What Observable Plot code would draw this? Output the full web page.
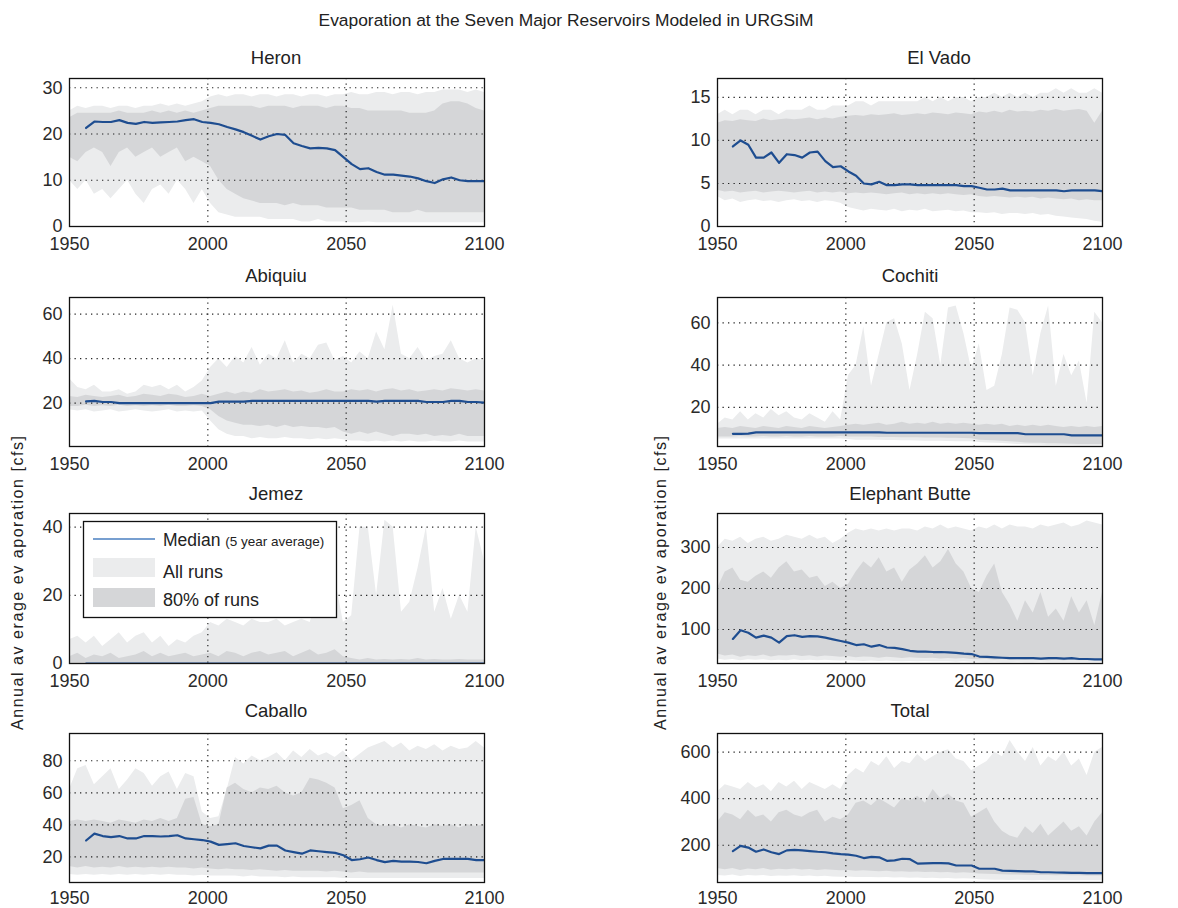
<!DOCTYPE html>
<html><head><meta charset="utf-8">
<script src="https://cdn.jsdelivr.net/npm/d3@7"></script>
<script src="https://cdn.jsdelivr.net/npm/@observablehq/plot@0.6"></script>
<style>
html,body{margin:0;padding:0;background:#fff;}
#root{position:relative;width:1178px;height:908px;overflow:hidden;background:#fff;}
#root > svg{position:absolute;}
</style></head><body><div id="root"></div>
<script>
const years = [1950,1953,1956,1959,1962,1965,1968,1971,1974,1977,1980,1983,1986,1989,1992,1995,1998,2001,2004,2007,2010,2013,2016,2019,2022,2025,2028,2031,2034,2037,2040,2043,2046,2049,2052,2055,2058,2061,2064,2067,2070,2073,2076,2079,2082,2085,2088,2091,2094,2097,2100];
const xTicks = [1950, 2000, 2050, 2100];

// Heron
const heronMedian = [null,null,21.3,22.7,22.6,22.6,23.0,22.4,22.2,22.6, 22.4,22.5,22.6,22.7,23.0,23.2,22.6,22.4,22.1,21.5, 21.0,20.4,19.6,18.8,19.5,20.0,19.8,18.0,17.4,16.9, 17.0,16.9,16.5,15.0,13.5,12.4,12.6,11.8,11.2,11.2, 11.0,10.8,10.4,9.8,9.4,10.2,10.6,10.0,9.8,9.8, 9.8];
const heronAllMax = [25,26,25.5,26,26,25.5,26,26,25.5,26, 26,26.5,26,26.5,26,26.5,27,28,28.5,28, 28.5,28.5,28,28.5,28.5,28,28.5,28.5,28,28.5, 28.5,28,28.5,28.5,29,28.5,28.5,29,29,28.5, 29,29,28.5,29,29,29.5,29.5,29.5,29,29.5, 29];
const heronP90 = [23.5,24.5,24.5,24.5,24.5,24.5,25,24.5,24.5,24.5, 25,24.5,25,24.5,25,24.5,25,25.5,26,26, 26,26,26,25.5,26,26,26,25.5,26,26, 26,25.5,26,26,25.5,25.5,25,25,25,25, 25,24.5,24.5,24.5,25,26.5,27,27,26.5,25.5, 25];
const heronP10 = [15,14,16,17,16,13,16,17,15,16, 17,15,16,17,14,15,14,13,10,8, 7,6,5.5,5,5,5,4.5,5,4.5,4.5, 4.5,4,4,4,4,3.5,3.5,3.5,3.5,3, 3,3,3.5,3,3,3,3,3,3,3, 3];
const heronAllMin = [10,8,10,7,8,6,8,10,7,5, 8,9,7,10,8,5,8,5,3,2.5, 2,2,2,2,1.5,1.5,1.5,1.5,1,1, 1.5,1,1,1,0.8,0.8,1,0.8,0.8,0.8, 0.8,0.8,0.8,0.8,0.8,0.8,0.8,0.8,0.8,0.8, 0.8];

// El Vado
const elVadoMedian = [null,null,9.3,10.0,9.5,8.0,8.0,8.6,7.4,8.4, 8.3,8.0,8.6,8.7,7.6,6.9,7.0,6.4,5.9,5.0, 4.9,5.2,4.8,4.8,4.9,4.9,4.8,4.8,4.8,4.8, 4.8,4.8,4.7,4.7,4.5,4.3,4.3,4.4,4.2,4.2, 4.2,4.2,4.2,4.2,4.2,4.1,4.2,4.2,4.2,4.2, 4.1];
const elVadoAllMax = [13,13.5,13,13.5,13.5,13,13.5,13.5,13,13.5, 13.5,13.5,14,13.5,13.5,14,14,14,14.5,14.5, 14,14.5,14.5,14.5,14.5,14.5,14.5,15,14.5,15, 14.5,15,15,14.5,15,15,15.5,15,15.5,15, 15.5,15,15.5,15.5,16,15.5,16,15.5,15.5,16, 15.5];
const elVadoP90 = [12,12.3,12.2,12.4,12.3,12.2,12.5,12.3,12.4,12.5, 12.4,12.5,12.6,12.4,12.6,12.5,12.7,12.8,12.9,12.8, 13,12.9,13,13.1,12.9,13,13.1,13,13.2,13.1, 13,13.2,13.1,13,13.3,13.2,13.4,13.2,13.5,13.3, 13.4,13.3,13.5,13.4,13.6,13.4,13.5,13.6,13.4,12, 13.4];
const elVadoP10 = [4.2,4,4.1,3.9,4,4.1,3.9,4,4.1,4, 3.9,4,4.1,3.9,4,3.9,4,3.8,3.9,3.8, 3.9,3.8,3.7,3.8,3.9,3.7,3.8,3.7,3.8,3.7, 3.8,3.7,3.6,3.7,3.5,3.4,3.5,3.4,3.3,3.4, 3.3,3.4,3.2,3.3,3.2,3.1,3.2,3,3.1,3, 3];
const elVadoAllMin = [3.5,3,3.2,2.8,3,3.1,2.9,3,2.8,3, 3.1,2.9,3,2.8,3,2.9,2.7,2.2,2,1.8, 2,1.9,1.8,2,1.7,1.9,1.8,2,1.7,1.8, 1.9,1.7,1.8,1.6,1.6,1.5,1.6,1.4,1.5,1.5, 1.4,1.5,1.3,1.4,1.2,1.1,1,0.9,0.8,0.6, 0.5];

// Abiquiu
const abiquiuMedian = [null,null,20.8,21,20.5,20.5,20,20,20,20, 20,20,20,20,20,20,20,20,20.7,20.7, 20.7,20.7,21,21,21,21,21,21,21,21, 21,21,21,21,21,21,21,20.7,21,21, 21,21,21,20.5,20.5,20.5,21,21,20.5,20.5, 20.2];
const abiquiuAllMax = [31,27,26,28,25,25,26,24,25,28, 27,28,26,28,25,27,30,36,40,36, 41,38,45,37,42,40,48,38,42,40, 46,47,39,41,38,43,40,52,44,64, 42,40,45,39,41,42,48,40,38,40, 39];
const abiquiuP90 = [23,22.5,23.5,23,22.5,23,23.5,22.5,23,24, 23.5,23,24,23.5,22.5,23,24,23,24,25, 24,25,24.5,26,25,25.5,26,25,25.5,24.5, 25,26,25,25,26,25.5,26,25,26,26.5, 25.5,26,25,25.5,26,25.5,26.5,26,25.5,26, 25.5];
const abiquiuP10 = [18.5,18.5,19,18.5,18.8,18.5,19,18.5,18.8,18.5, 18.8,18.5,19,18.5,18.5,18.8,18.5,17,14,12, 11,10,10,9.5,10,9,10,9,9.5,9, 9,8.5,9,7,6,7,6,7,6,5, 6,6,5.5,6,5,5.5,5,6,5,5, 5];
const abiquiuAllMin = [17,16.5,17,16,16.5,17,16,16.5,17,16.5, 16,16.5,17,16,16.5,16,16.5,12,8,6, 5,5,4,4.5,4,4,4.5,4,4,3.5, 4,3.5,4,3.5,3,3,2.5,3,2.5,3, 2.5,3,2.5,2.5,3,2.5,2.5,3,2.5,2.5, 2.5];

// Cochiti
const cochitiMedian = [null,null,7.5,7.5,7.6,8.2,8.2,8.2,8.2,8.2, 8.2,8.2,8.2,8.2,8.2,8.2,8.2,8.2,8.2,8.2, 8.2,8.2,8.0,8.0,8.0,8.0,8.0,8.0,8.0,8.0, 8.0,8.0,8.0,8.0,7.8,7.8,7.8,7.8,7.8,7.8, 7.3,7.3,7.3,7.3,7.3,7.3,6.8,6.8,6.8,6.8, 6.8];
const cochitiAllMax = [12,15,14,18,14,17,15,19,16,18, 15,14,17,15,13,18,14,35,40,58, 30,45,60,62,50,28,45,65,62,40, 67,68,55,38,50,28,30,45,67,66, 60,35,55,68,30,45,35,42,22,65, 60];
const cochitiP90 = [10,10.5,10,11,10.5,10,11,10.5,10,11, 10.5,10,11,10.5,10,10.5,11,11.5,12,11.5, 12,12.5,11.5,12,13,12,12.5,12,13,12, 12.5,12,12.5,12,11.5,12,11.5,12,11,11.5, 11,11.5,11,11.5,11,10.5,11,10.5,11,10.5, 11];
const cochitiP10 = [6,6,6,6.2,6,6,6.2,6,6,6.2, 6,6,6.2,6,6,6,6.2,6,6,6, 6,5.8,5.8,5.8,5.6,5.6,5.6,5.5,5.5,5.5, 5.4,5.4,5.3,5.2,4.5,4.3,4.2,4,3.8,3.5, 3.2,3,3,2.8,2.8,2.7,2.6,2.5,2.5,2.5, 2.5];
const cochitiAllMin = [5,5,5,5,5,5,5,5,5,5, 5,5,5,5,5,5,5,4.8,4.5,4.5, 4.5,4.4,4.3,4.3,4.2,4.2,4.1,4,4,4, 3.9,3.8,3.8,3.7,3.4,3.2,3,2.9,2.7,2.5, 2.3,2.2,2.1,2,2,2,2,1.9,1.9,1.8, 1.8];

// Jemez
const jemezMedian = [null,null,0,0,0,0,0,0,0,0, 0,0,0,0,0,0,0,0,0,0, 0,0,0,0,0,0,0,0,0,0, 0,0,0,0,0,0,0,0,0,0, 0,0,0,0,0,0,0,0,0,0, 0];
const jemezAllMax = [7,8,6,8,5,7,9,6,8,9, 6,8,5,7,6,8,9,12,11,13, 12,11,13,12,12,13,11,12,13,12, 20,30,25,12,14,40,40,20,42,40, 15,18,28,40,15,22,13,20,15,40, 30];
const jemezP90 = [2,3,1.5,2.5,2,3,1.5,2,2.5,3.5, 2,3,2,2.5,3,2,2.5,3,2,3.5, 3,2,3,3.5,2.5,3,3.5,2,3,4, 2.5,3,4,2,1.5,1,1.5,1,1.2,1, 1.2,1,1.5,1,1.2,1,1,1.2,1,1, 1];
const jemezP10 = [0,0,0,0,0,0,0,0,0,0, 0,0,0,0,0,0,0,0,0,0, 0,0,0,0,0,0,0,0,0,0, 0,0,0,0,0,0,0,0,0,0, 0,0,0,0,0,0,0,0,0,0, 0];
const jemezAllMin = [0,0,0,0,0,0,0,0,0,0, 0,0,0,0,0,0,0,0,0,0, 0,0,0,0,0,0,0,0,0,0, 0,0,0,0,0,0,0,0,0,0, 0,0,0,0,0,0,0,0,0,0, 0];

// Elephant Butte
const butteMedian = [null,null,77,98,92,80,85,80,68,84, 86,82,84,83,80,76,72,68,62,64, 58,62,56,55,52,48,46,46,45,45, 44,43,41,40,34,33,32,31,30,30, 30,30,29,30,30,29,30,28,28,27, 27];
const butteAllMax = [300,320,315,325,310,320,325,315,320,330, 325,320,330,320,325,310,320,335,345,340, 345,340,345,340,345,345,340,350,345,355, 345,350,345,340,350,345,355,345,355,350, 350,345,355,350,355,360,350,355,365,360, 355];
const butteP90 = [200,240,250,220,215,230,240,225,250,265, 240,245,225,230,205,215,200,210,240,265, 250,275,240,250,215,245,260,280,250,265, 295,260,240,200,190,230,260,190,160,120, 170,140,190,130,150,120,180,140,170,110, 190];
const butteP10 = [40,35,38,32,36,34,38,33,36,35, 37,34,36,33,35,34,32,34,31,33, 32,30,32,31,29,31,30,29,30,28, 29,28,29,27,26,27,25,26,25,26, 25,26,25,24,25,24,25,24,24,25, 24];
const butteAllMin = [28,25,27,24,26,25,26,24,25,24, 26,24,25,24,25,24,23,24,23,22, 23,22,23,22,21,22,21,22,21,21, 21,20,21,20,20,19,20,19,19,20, 19,19,20,19,19,19,19,19,19,19, 19];

// Caballo
const caballoMedian = [null,null,30.2,34.5,33,32.3,33,31.5,31.5,33, 33,32.7,33,33.5,31.5,31,30.5,29.5,27.5,28, 28.5,26.8,26,25.3,27,27,24,23,22,24, 23.5,23,22.5,21,18,18.5,19.6,18,16.7,17.5, 17,17,16.8,16,17.5,18.7,18.8,18.8,18.8,18, 18];
const caballoAllMax = [62,75,77,65,70,75,62,68,75,72, 64,70,73,62,72,70,48,44,45,62, 82,78,83,80,82,85,80,86,82,87, 83,85,82,86,80,84,88,90,92,88, 91,86,89,87,90,86,89,87,88,92, 88];
const caballoP90 = [42,43,42,43,42,41,43,42,41,43, 42,44,42,44,56,57,40,39,40,63, 66,62,60,63,62,64,60,58,60,69, 68,66,63,50,52,55,44,40,39,40, 38,40,39,38,40,39,40,38,40,39, 40];
const caballoP10 = [14,13,14,13,13.5,13,14,13,13.5,13, 13.5,13,13.5,13,13,12.5,13,12.5,12,12.5, 12,12,11.5,12,11.5,11,11.5,11,11,11, 11,10.5,11,10.5,10,10.5,10,10,10,10, 10,10,10,10,10,10,10,10,10,10, 10];
const caballoAllMin = [9,8.5,9,8.5,9,8.5,9,8.5,9,8.5, 9,8.5,9,8.5,8.5,8,8.5,8,8,8, 8,7.5,8,7.5,7.5,7.5,7,7.5,7,7, 7,7,7,6.5,6.5,6.5,6.5,6.5,6.5,6.5, 6.5,6.5,6.5,6.5,6.5,6.5,6.5,6.5,6.5,6.5, 6.5];

// Total
const totalMedian = [null,null,175,197,190,172,182,170,162,178, 180,178,175,172,170,165,162,160,155,145, 150,148,133,135,142,140,121,122,123,123, 122,113,113,113,99,99,99,91,90,89, 88,88,84,84,83,82,81,81,80,80, 80];
const totalAllMax = [430,460,450,440,470,445,460,430,470,450, 475,440,470,455,440,460,440,500,530,510, 560,540,580,530,560,550,590,560,580,600, 610,570,560,520,540,560,600,580,650,600, 560,620,540,580,560,600,540,570,500,600, 620];
const totalP90 = [300,340,330,310,350,320,330,300,340,350, 330,320,340,350,300,320,310,330,380,390, 370,400,380,360,400,390,410,380,440,400, 420,390,380,320,340,360,300,260,240,230, 280,250,290,240,270,300,260,280,240,300, 340];
const totalP10 = [100,95,100,92,98,95,100,93,97,95, 98,94,96,92,95,93,90,92,88,90, 88,86,88,85,86,84,85,83,84,82, 83,80,82,80,76,75,74,73,72,72, 71,70,70,70,69,70,69,69,68,68, 68];
const totalAllMin = [70,68,72,66,70,68,70,66,68,67, 69,66,68,65,67,64,63,64,62,62, 61,60,61,59,60,58,59,57,58,56, 57,55,56,55,52,51,50,50,49,50, 49,48,49,48,48,48,48,48,48,48, 48];

const panelNames = ["Heron","El Vado","Abiquiu","Cochiti","Jemez","Elephant Butte","Caballo","Total"];
const yDomains = [[0,32],[0,17.2],[0.5,67.5],[1.5,72],[0,44],[17,383],[4,97],[40,680]];
const yTickSets = [[0,10,20,30],[0,5,10,15],[20,40,60],[20,40,60],[0,20,40],[100,200,300],[20,40,60,80],[200,400,600]];
const medians = [heronMedian, elVadoMedian, abiquiuMedian, cochitiMedian, jemezMedian, butteMedian, caballoMedian, totalMedian];
const allMaxes = [heronAllMax, elVadoAllMax, abiquiuAllMax, cochitiAllMax, jemezAllMax, butteAllMax, caballoAllMax, totalAllMax];
const allMins = [heronAllMin, elVadoAllMin, abiquiuAllMin, cochitiAllMin, jemezAllMin, butteAllMin, caballoAllMin, totalAllMin];
const p90s = [heronP90, elVadoP90, abiquiuP90, cochitiP90, jemezP90, butteP90, caballoP90, totalP90];
const p10s = [heronP10, elVadoP10, abiquiuP10, cochitiP10, jemezP10, butteP10, caballoP10, totalP10];

const LIGHT = "#ebeced", DARK = "#d5d6d8", BLUE = "#1e4d90";
const SANS = '"Liberation Sans",Arial,sans-serif';

const colFrames = [[69,484],[717,1102]];
const rowFrames = [[78,226],[297,446],[513,663],[733,882]];
const rowTickPad = [11, 11, 11, 8.5];
const colSvg = [[0,530],[600,578]];

const root = document.getElementById("root");

panelNames.forEach((name, i) => {
  const col = i % 2, row = Math.floor(i / 2);
  const [x0, x1] = colFrames[col];
  const [y0, y1] = rowFrames[row];
  const [sLeft, sWidth] = colSvg[col];
  const mT = 10, mB = 26;
  const rows = years.map((y, k) => ({year: y, median: medians[i][k], allMax: allMaxes[i][k], allMin: allMins[i][k], p90: p90s[i][k], p10: p10s[i][k]}));
  const dom = yDomains[i];
  const gy = yTickSets[i].filter(t => t > dom[0] && t < dom[1]);
  const svg = Plot.plot({
    width: sWidth, height: (y1 - y0) + mT + mB,
    marginLeft: x0 - sLeft, marginRight: sLeft + sWidth - x1,
    marginTop: mT, marginBottom: mB,
    style: {fontFamily: SANS, fontSize: "18px", color: "#2a2a2a", background: "transparent", overflow: "visible"},
    x: {domain: [1950, 2100]},
    y: {domain: dom},
    marks: [
      Plot.areaY(rows, {x: "year", y1: "allMin", y2: "allMax", fill: LIGHT, clip: true}),
      Plot.areaY(rows, {x: "year", y1: "p10", y2: "p90", fill: DARK, clip: true}),
      Plot.gridX({ticks: [2000, 2050], stroke: "#000", strokeOpacity: 0.85, strokeDasharray: "1.3,4.2", strokeWidth: 1.2}),
      Plot.gridY({ticks: gy, stroke: "#000", strokeOpacity: 0.85, strokeDasharray: "1.3,4.2", strokeWidth: 1.2}),
      Plot.lineY(rows, {x: "year", y: "median", stroke: BLUE, strokeWidth: 2.2, clip: true}),
      Plot.frame({stroke: "#111", strokeWidth: 1.3}),
      Plot.axisX({ticks: xTicks, tickFormat: d => String(d), tickSize: 0, tickPadding: rowTickPad[row], label: null}),
      Plot.axisY({ticks: yTickSets[i], tickSize: 0, tickPadding: 7, label: null})
    ]
  });
  svg.style.position = "absolute";
  svg.style.left = sLeft + "px";
  svg.style.top = (y0 - mT) + "px";
  root.appendChild(svg);
});

// overlay: titles, y labels, legend
const ov = d3.select(root).append("svg").attr("width", 1178).attr("height", 908)
  .style("left", "0px").style("top", "0px").style("pointer-events", "none");

ov.append("text").attr("x", 566).attr("y", 26).attr("text-anchor", "middle")
  .attr("font-family", SANS).attr("font-size", 17.4).attr("fill", "#222")
  .text("Evaporation at the Seven Major Reservoirs Modeled in URGSiM");

const titleX = [276, 939, 276, 910, 276, 910, 276, 910];
const titleY = [64, 64, 282, 282, 500, 500, 717, 717];
panelNames.forEach((name, i) => {
  ov.append("text").attr("x", titleX[i]).attr("y", titleY[i]).attr("text-anchor", "middle")
    .attr("font-family", SANS).attr("font-size", 18.5).attr("fill", "#222").text(name);
});

[[23, 583], [666, 583]].forEach(([x, y]) => {
  ov.append("text").attr("transform", `translate(${x},${y}) rotate(-90)`).attr("text-anchor", "middle")
    .attr("font-family", SANS).attr("font-size", 16).attr("fill", "#222")
    .attr("textLength", 294).attr("lengthAdjust", "spacing")
    .text("Annual av erage ev aporation [cfs]");
});

const lg = ov.append("g");
lg.append("rect").attr("x", 83.5).attr("y", 521.5).attr("width", 253).attr("height", 96)
  .attr("fill", "#fff").attr("stroke", "#111").attr("stroke-width", 1.3);
lg.append("line").attr("x1", 93).attr("x2", 155).attr("y1", 539).attr("y2", 539)
  .attr("stroke", "#4a7fc0").attr("stroke-width", 1.6);
const mt = lg.append("text").attr("x", 163).attr("y", 546).attr("font-family", SANS).attr("fill", "#222");
mt.append("tspan").attr("font-size", 17.5).text("Median ");
mt.append("tspan").attr("font-size", 13.5).text("(5 year average)");
lg.append("rect").attr("x", 93).attr("y", 558).attr("width", 62).attr("height", 19).attr("fill", LIGHT);
lg.append("text").attr("x", 163).attr("y", 577.5).attr("font-family", SANS).attr("font-size", 18).attr("fill", "#222").text("All runs");
lg.append("rect").attr("x", 93).attr("y", 588).attr("width", 62).attr("height", 19).attr("fill", DARK);
lg.append("text").attr("x", 163).attr("y", 606).attr("font-family", SANS).attr("font-size", 18).attr("fill", "#222").text("80% of runs");
</script>
</body></html>
